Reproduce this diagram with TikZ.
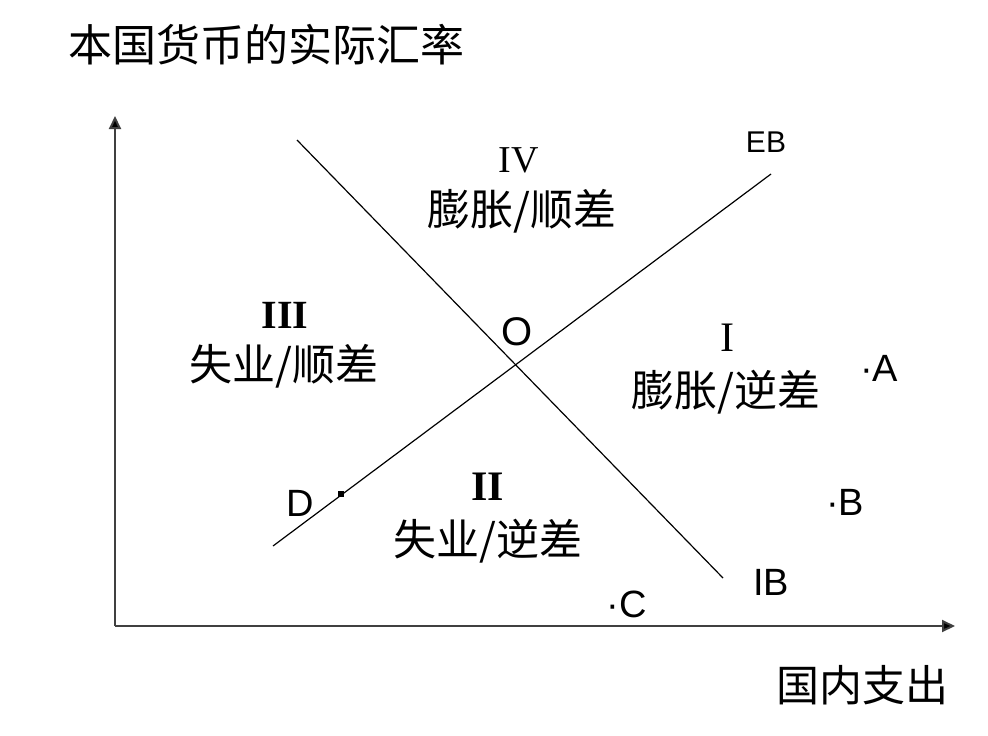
\documentclass[tikz,border=0pt]{standalone}
\usepackage{fontspec}
\setmainfont{Liberation Sans}
\newfontfamily\cjk{Noto Sans CJK SC}
\newfontfamily\romserif{Liberation Serif}
\usetikzlibrary{arrows.meta}
\begin{document}
\begin{tikzpicture}[x=1pt,y=-1pt,
  axis/.style={draw=black!75,line width=2pt,-{Triangle[length=13pt,width=12pt,fill=black]}},
  curve/.style={draw=black,line width=1.2pt},
  cjklabel/.style={font=\cjk\fontsize{43}{47}\selectfont,inner sep=0pt},
  latinlabel/.style={font=\fontsize{38}{42}\selectfont,inner sep=0pt},
  numeral/.style={font=\romserif\fontsize{42}{46}\selectfont,inner sep=0pt}]
  \useasboundingbox (0,0) rectangle (988,736);

  % axes
  \coordinate (origin) at (115,626);
  \coordinate (ytip) at (115,116);
  \coordinate (xtip) at (955,626);
  \draw[axis] (origin) -- (ytip);
  \draw[axis] (origin) -- (xtip);
  \node[font=\cjk\fontsize{44}{48}\selectfont,inner sep=0pt,anchor=west] (ylabel) at (68,45) {本国货币的实际汇率};
  \node[font=\cjk\fontsize{43}{47}\selectfont,inner sep=0pt] (xlabel) at (862,685) {国内支出};

  % internal and external balance schedules
  \coordinate (ib0) at (297,140);
  \coordinate (ib1) at (723,578);
  \coordinate (eb0) at (273,546);
  \coordinate (eb1) at (771,174);
  \draw[curve] (ib0) -- (ib1);
  \draw[curve] (eb0) -- (eb1);
  \node[font=\fontsize{30}{34}\selectfont,inner sep=0pt] (eblabel) at (766,142) {EB};
  \node[latinlabel] (iblabel) at (771,582) {IB};
  \node[font=\fontsize{40}{44}\selectfont,inner sep=0pt] (olabel) at (517,332) {O};

  % zones
  \node[font=\romserif\fontsize{38}{42}\selectfont,inner sep=0pt] (z4) at (519,160) {IV};
  \node[cjklabel] (z4t) at (522,211) {膨胀/顺差};
  \node[numeral,font=\romserif\bfseries\fontsize{40}{44}\selectfont] (z3) at (285,315) {III};
  \node[cjklabel] (z3t) at (284,366) {失业/顺差};
  \node[numeral] (z1) at (727,338) {I};
  \node[cjklabel] (z1t) at (726,392) {膨胀/逆差};
  \node[numeral,font=\romserif\bfseries\fontsize{42}{46}\selectfont] (z2) at (488,487) {II};
  \node[cjklabel] (z2t) at (488,541) {失业/逆差};

  % sample points
  \node[latinlabel] (pa) at (879,368) {·A};
  \node[latinlabel] (pb) at (845,502) {·B};
  \node[latinlabel] (pc) at (627,604) {·C};
  \node[latinlabel] (pd) at (300,503) {D};
  \node[fill=black,minimum size=6pt,inner sep=0pt] (dmark) at (341,494) {};
\end{tikzpicture}
\end{document}
